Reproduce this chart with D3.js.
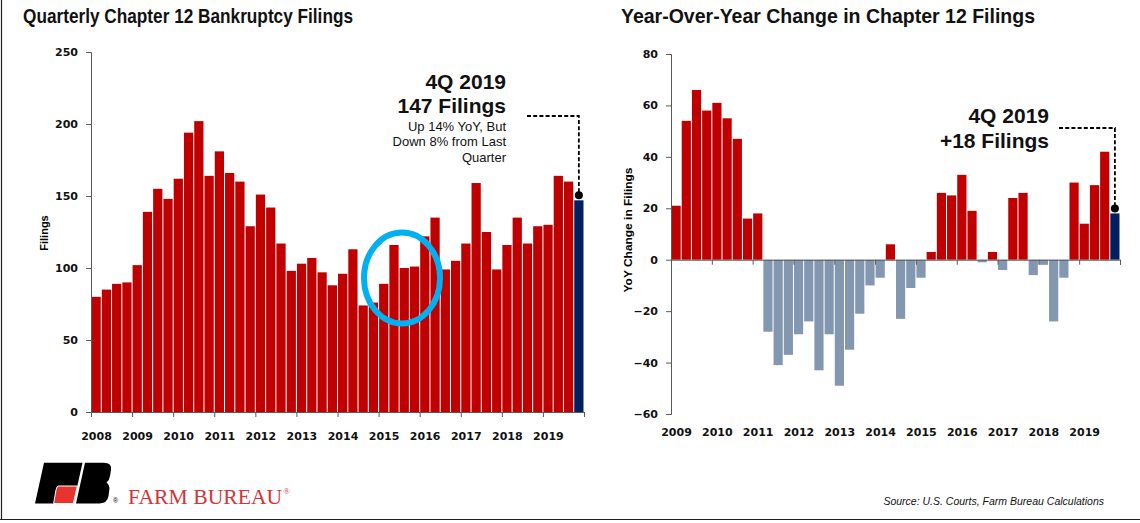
<!DOCTYPE html>
<html><head><meta charset="utf-8">
<script src="https://cdn.jsdelivr.net/npm/d3@7"></script>
<style>
html,body{margin:0;padding:0;background:#fff;}
svg{display:block;}
</style></head>
<body><svg id="c" width="1140" height="523"></svg>
<script>
// ---- Data ----
const quarters = [];
for (let y = 2008; y <= 2019; y++) for (let q = 1; q <= 4; q++) quarters.push(y + " Q" + q);
const filings = [80,85,89,90, 102,139,155,148, 162,194,202,164, 181,166,160,129,
  151,142,117,98, 103,107,97,88, 96,113,74,76, 89,116,100,101,
  122,135,99,105, 117,159,125,99, 116,135,117,129, 130,164,160,147];
const yoyQuarters = quarters.slice(4);
const yoyChange = [21,54,66,58, 61,55,47,16, 18,-28,-41,-37, -29,-24,-43,-29,
  -49,-35,-21,-10, -7,6,-23,-11, -7,3,26,25, 33,19,-1,3,
  -4,24,26,-6, -2,-24,-7,30, 14,29,42,18];
const leftYears = d3.range(2008, 2021);
const rightYears = d3.range(2009, 2021);
const leftTicks = [0,50,100,150,200,250];
const rightTicks = [-60,-40,-20,0,20,40,60,80];

const RED = "#C00000", NAVY = "#002060", GREY = "#8497B0", AX = "#595959";
const TICKFONT = "'DejaVu Sans', Verdana, sans-serif";
const TITLEFONT = "'Liberation Sans Narrow', 'Arial Narrow', 'Liberation Sans', sans-serif";
const svg = d3.select("#c");

// border
svg.append("line").attr("x1",1.5).attr("x2",1.5).attr("y1",0).attr("y2",519.5).attr("stroke","#222").attr("stroke-width",1.2);
svg.append("line").attr("x1",0).attr("x2",1140).attr("y1",519.5).attr("y2",519.5).attr("stroke","#222").attr("stroke-width",1.2);

// titles
function title(x, y, txt, len) {
  svg.append("text").attr("x",x).attr("y",y).text(txt)
    .attr("font-family",TITLEFONT).attr("font-weight","bold").attr("font-size",21)
    .attr("textLength",len).attr("lengthAdjust","spacingAndGlyphs").attr("fill","#111");
}
title(23, 23, "Quarterly Chapter 12 Bankruptcy Filings", 330);
title(621, 23, "Year-Over-Year Change in Chapter 12 Filings", 414);

function styleAxis(g) {
  g.selectAll("path,line").attr("stroke",AX).attr("stroke-width",1);
  g.selectAll("text").attr("font-family",TICKFONT).attr("font-weight","bold")
    .attr("font-size",11).attr("fill","#111");
}

// ---- Left chart ----
const L = {x0:91, x1:584, y0:412, y1:52};
const xL = d3.scaleBand().domain(quarters).range([L.x0, L.x1]).paddingInner(0.1).paddingOuter(0.05);
const yL = d3.scaleLinear().domain([0,250]).range([L.y0, L.y1]);
const xLy = d3.scaleLinear().domain([2008,2020]).range([L.x0, L.x1]);

svg.append("g").selectAll("rect").data(filings).join("rect")
  .attr("x",(d,i)=>xL(quarters[i])).attr("width",xL.bandwidth())
  .attr("y",d=>yL(d)).attr("height",d=>yL(0)-yL(d))
  .attr("fill",(d,i)=>i===filings.length-1?NAVY:RED);

const gyL = svg.append("g").attr("transform",`translate(${L.x0},0)`)
  .call(d3.axisLeft(yL).tickValues(leftTicks).tickSize(5).tickPadding(8));
styleAxis(gyL);
const gxL = svg.append("g").attr("transform",`translate(0,${L.y0})`)
  .call(d3.axisBottom(xLy).tickValues(leftYears).tickSize(5).tickFormat(d=>d===2020?"":d));
styleAxis(gxL);
gxL.selectAll("text").attr("y",20).attr("dx",5);

svg.append("text").attr("transform","translate(48,233) rotate(-90)").attr("text-anchor","middle")
  .attr("font-family","'Liberation Sans', Arial, sans-serif").attr("font-weight","bold").attr("font-size",11).text("Filings");

// annotation left
const annL = svg.append("g").attr("text-anchor","end").attr("fill","#111");
annL.append("text").attr("x",506).attr("y",89).text("4Q 2019").attr("font-family","'Liberation Sans', Arial, sans-serif").attr("font-weight","bold").attr("font-size",21);
annL.append("text").attr("x",506).attr("y",113).text("147 Filings").attr("font-family","'Liberation Sans', Arial, sans-serif").attr("font-weight","bold").attr("font-size",21);
["Up 14% YoY, But","Down 8% from Last","Quarter"].forEach((t,i)=>{
  annL.append("text").attr("x",506).attr("y",130.5+i*15.5).text(t)
    .attr("font-family","'Liberation Sans', Arial, sans-serif").attr("font-size",13);
});
const lastL = quarters[quarters.length-1];
const dotLx = xL(lastL)+xL.bandwidth()/2, dotLy = yL(filings[filings.length-1])-5;
svg.append("path").attr("d",`M527,116H${dotLx}V${dotLy}`).attr("fill","none")
  .attr("stroke","#000").attr("stroke-width",1.8).attr("stroke-dasharray","4,2.2");
svg.append("circle").attr("cx",dotLx).attr("cy",dotLy).attr("r",4).attr("fill","#000");

// blue ellipse
svg.append("ellipse").attr("cx",402).attr("cy",278).attr("rx",38).attr("ry",45.5)
  .attr("fill","none").attr("stroke","#00B0F0").attr("stroke-width",6);

// ---- Right chart ----
const R = {x0:671, x1:1120, y0:414, y1:54};
const xR = d3.scaleBand().domain(yoyQuarters).range([R.x0, R.x1]).paddingInner(0.1).paddingOuter(0.05);
const yR = d3.scaleLinear().domain([-60,80]).range([R.y0, R.y1]);
const xRy = d3.scaleLinear().domain([2009,2020]).range([R.x0, R.x1]);

svg.append("g").selectAll("rect").data(yoyChange).join("rect")
  .attr("x",(d,i)=>xR(yoyQuarters[i])).attr("width",xR.bandwidth())
  .attr("y",d=>yR(Math.max(0,d))).attr("height",d=>Math.abs(yR(d)-yR(0)))
  .attr("fill",(d,i)=>i===yoyChange.length-1?NAVY:(d<0?GREY:RED));

const gyR = svg.append("g").attr("transform",`translate(${R.x0},0)`)
  .call(d3.axisLeft(yR).tickValues(rightTicks).tickSize(5).tickPadding(8));
styleAxis(gyR);
const gxR = svg.append("g").attr("transform",`translate(0,${yR(0)})`)
  .call(d3.axisBottom(xRy).tickValues(rightYears).tickSize(5).tickFormat(d=>d===2020?"":d));
styleAxis(gxR);
gxR.selectAll("text").attr("y", 436 - yR(0) - 8).attr("dx",5);

svg.append("text").attr("transform","translate(632,230) rotate(-90)").attr("text-anchor","middle")
  .attr("font-family","'Liberation Sans', Arial, sans-serif").attr("font-weight","bold").attr("font-size",11)
  .attr("textLength",125).attr("lengthAdjust","spacingAndGlyphs").text("YoY Change in Filings");

const annR = svg.append("g").attr("text-anchor","end").attr("fill","#111");
annR.append("text").attr("x",1049).attr("y",123).text("4Q 2019").attr("font-family","'Liberation Sans', Arial, sans-serif").attr("font-weight","bold").attr("font-size",21);
annR.append("text").attr("x",1049).attr("y",148).text("+18 Filings").attr("font-family","'Liberation Sans', Arial, sans-serif").attr("font-weight","bold").attr("font-size",21);
const lastR = yoyQuarters[yoyQuarters.length-1];
const dotRx = xR(lastR)+xR.bandwidth()/2, dotRy = yR(yoyChange[yoyChange.length-1])-5;
svg.append("path").attr("d",`M1059,128H${dotRx}V${dotRy}`).attr("fill","none")
  .attr("stroke","#000").attr("stroke-width",1.8).attr("stroke-dasharray","4,2.2");
svg.append("circle").attr("cx",dotRx).attr("cy",dotRy).attr("r",4).attr("fill","#000");

// ---- Logo ----
const logo = svg.append("g");
logo.append("path").attr("d","M44,462.7L82.5,462.7L73.4,503.5L35,503.5Z").attr("fill","#000");
logo.append("path").attr("d","M58.5,486L77.3,486L73.4,503.5L53.6,503.5L56,490Q56.8,486 58.5,486Z")
  .attr("fill","#E8332E").attr("stroke","#fff").attr("stroke-width",1);
logo.append("path").attr("d","M85,462.7L104,462.7Q112,462.7 111,470L110,476Q109.3,480.5 106.5,482.5Q110,485 109.3,490L108.5,496Q107.3,503.5 99,503.5L76,503.5Z").attr("fill","#000");
logo.append("text").attr("x",113).attr("y",503).text("®").attr("font-size",7).attr("font-family","'Liberation Sans', Arial, sans-serif");
const fb = logo.append("text").attr("x",128).attr("y",504).attr("fill","#D2343A")
  .attr("font-family","'Liberation Serif', 'Times New Roman', serif").attr("font-size",22)
  .attr("textLength",162).attr("lengthAdjust","spacingAndGlyphs");
fb.append("tspan").text("FARM BUREAU");
fb.append("tspan").attr("font-size",9).attr("dy",-10).attr("dx",1).text("®");

svg.append("text").attr("x",1104).attr("y",505).attr("text-anchor","end")
  .attr("font-family","'Liberation Sans', Arial, sans-serif").attr("font-style","italic").attr("font-size",10.5)
  .attr("fill","#111").text("Source: U.S. Courts, Farm Bureau Calculations");
</script></body></html>
